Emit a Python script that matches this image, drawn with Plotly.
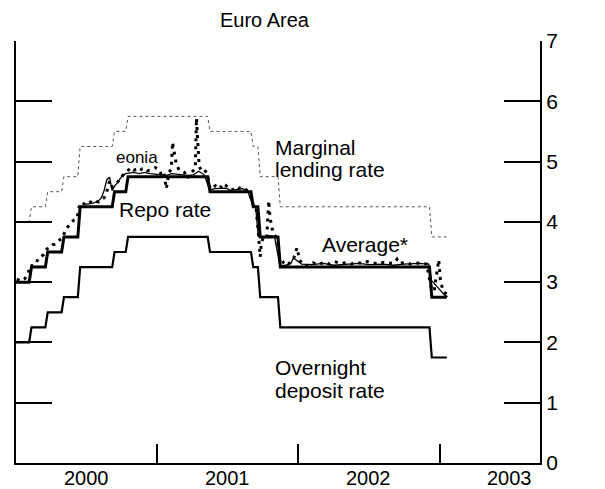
import plotly.graph_objects as go
from datetime import date, timedelta

# ---------------- data ----------------
policy_dates = ["2000-01-01", "2000-02-04", "2000-03-17", "2000-04-28", "2000-06-09",
                "2000-09-06", "2000-10-11", "2001-05-11", "2001-08-31", "2001-09-18",
                "2001-11-09", "2002-12-06"]
repo_rates = [3.00, 3.25, 3.50, 3.75, 4.25, 4.50, 4.75, 4.50, 4.25, 3.75, 3.25, 2.75]
deposit_rates = [2.00, 2.25, 2.50, 2.75, 3.25, 3.50, 3.75, 3.50, 3.25, 2.75, 2.25, 1.75]
lending_rates = [4.00, 4.25, 4.50, 4.75, 5.25, 5.50, 5.75, 5.50, 5.25, 4.75, 4.25, 3.75]
policy_end = "2003-01-20"

avg_dates = ["2000-06-28", "2000-07-05", "2000-07-19", "2000-08-02", "2000-08-09", "2000-08-16",
             "2000-08-23", "2000-08-30", "2000-09-06", "2000-09-13", "2000-09-20", "2000-09-27",
             "2000-10-04", "2000-10-11", "2000-10-18", "2000-11-01", "2000-11-15", "2000-11-29",
             "2000-12-13", "2000-12-27", "2001-01-10", "2001-01-24", "2001-02-07", "2001-02-21",
             "2001-03-07", "2001-03-21", "2001-04-04", "2001-04-18", "2001-05-02", "2001-05-16",
             "2001-05-30", "2001-06-13", "2001-06-27", "2001-07-11", "2001-07-25", "2001-08-08",
             "2001-08-22", "2001-09-05", "2001-09-12", "2001-09-19", "2001-10-03", "2001-10-17",
             "2001-10-31", "2001-11-14", "2001-11-28", "2001-12-12", "2001-12-19", "2001-12-27",
             "2002-01-09", "2002-02-06", "2002-03-06", "2002-04-03", "2002-05-08", "2002-06-05",
             "2002-07-03", "2002-08-07", "2002-09-04", "2002-10-02", "2002-11-06", "2002-12-04",
             "2002-12-11", "2002-12-18", "2002-12-27", "2003-01-08", "2003-01-15", "2003-01-22"]
avg_values = [4.29, 4.30, 4.31, 4.35, 4.40, 4.52,
              4.70, 4.74, 4.52, 4.60, 4.65, 4.72,
              4.78, 4.80, 4.81, 4.82, 4.80, 4.82,
              4.80, 4.79, 4.78, 4.77, 4.80, 4.79,
              4.78, 4.77, 4.78, 4.84, 4.78, 4.53,
              4.55, 4.56, 4.56, 4.52, 4.54, 4.55,
              4.52, 4.27, 4.26, 3.76, 3.75, 3.77,
              3.76, 3.27, 3.28, 3.31, 3.40, 3.36,
              3.30, 3.29, 3.31, 3.28, 3.30, 3.31,
              3.29, 3.30, 3.28, 3.30, 3.31, 3.30,
              3.03, 2.98, 2.90, 2.82, 2.78, 2.76]

eonia_dates = ["2000-01-03", "2000-01-14", "2000-01-24", "2000-01-31", "2000-02-07", "2000-02-14",
               "2000-02-21", "2000-02-28", "2000-03-06", "2000-03-13", "2000-03-21", "2000-03-28",
               "2000-04-04", "2000-04-11", "2000-04-18", "2000-04-30", "2000-05-08", "2000-05-15",
               "2000-05-21", "2000-05-30", "2000-06-07", "2000-06-14", "2000-06-21", "2000-06-28",
               "2000-07-05", "2000-07-12", "2000-07-19", "2000-07-26", "2000-08-02", "2000-08-09",
               "2000-08-16", "2000-08-23", "2000-08-30", "2000-09-06", "2000-09-13", "2000-09-20",
               "2000-09-27", "2000-10-04", "2000-10-11", "2000-10-18", "2000-10-25", "2000-11-01",
               "2000-11-08", "2000-11-15", "2000-11-22", "2000-11-29", "2000-12-06", "2000-12-13",
               "2000-12-20", "2000-12-27", "2001-01-03", "2001-01-10", "2001-01-17", "2001-01-24",
               "2001-01-31", "2001-02-06", "2001-02-09", "2001-02-14", "2001-02-19", "2001-02-26",
               "2001-03-05", "2001-03-12", "2001-03-19", "2001-03-26", "2001-04-02", "2001-04-09",
               "2001-04-12", "2001-04-19", "2001-04-26", "2001-05-03", "2001-05-10", "2001-05-17",
               "2001-05-24", "2001-05-31", "2001-06-07", "2001-06-14", "2001-06-21", "2001-06-28",
               "2001-07-05", "2001-07-12", "2001-07-19", "2001-07-26", "2001-08-02", "2001-08-09",
               "2001-08-16", "2001-08-23", "2001-08-30", "2001-09-06", "2001-09-13", "2001-09-20",
               "2001-09-24", "2001-09-27", "2001-10-04", "2001-10-11", "2001-10-16", "2001-10-19",
               "2001-10-24", "2001-10-31", "2001-11-07", "2001-11-14", "2001-11-21", "2001-11-28",
               "2001-12-05", "2001-12-12", "2001-12-19", "2001-12-28", "2002-01-04", "2002-01-11",
               "2002-01-25", "2002-02-08", "2002-02-22", "2002-03-08", "2002-03-22", "2002-04-05",
               "2002-04-19", "2002-05-03", "2002-05-17", "2002-05-31", "2002-06-14", "2002-06-28",
               "2002-07-12", "2002-07-26", "2002-08-09", "2002-08-23", "2002-09-06", "2002-09-13",
               "2002-09-20", "2002-10-04", "2002-10-18", "2002-11-01", "2002-11-15", "2002-11-29",
               "2002-12-06", "2002-12-11", "2002-12-18", "2002-12-23", "2002-12-30", "2003-01-03",
               "2003-01-10", "2003-01-20"]
eonia_values = [3.05, 3.02, 3.06, 3.12, 3.28, 3.27,
                3.30, 3.40, 3.42, 3.46, 3.55, 3.57,
                3.62, 3.63, 3.68, 3.73, 3.86, 3.92,
                3.98, 4.03, 4.06, 4.30, 4.28, 4.32,
                4.30, 4.33, 4.31, 4.34, 4.33, 4.37,
                4.40, 4.50, 4.68, 4.58, 4.62, 4.66,
                4.72, 4.78, 4.83, 4.86, 4.90, 4.86,
                4.87, 4.84, 4.88, 4.89, 4.85, 4.86,
                4.88, 4.90, 4.88, 4.80, 4.84, 4.55,
                4.82, 4.88, 5.32, 5.15, 4.95, 4.86,
                4.84, 4.82, 4.72, 4.80, 4.84, 4.88,
                5.72, 4.92, 4.84, 4.86, 4.80, 4.55,
                4.57, 4.60, 4.55, 4.58, 4.54, 4.60,
                4.56, 4.53, 4.55, 4.52, 4.56, 4.54,
                4.55, 4.50, 4.45, 4.28, 4.25, 3.75,
                3.42, 3.65, 3.78, 3.76, 4.35, 4.10,
                3.90, 3.78, 3.72, 3.30, 3.32, 3.35,
                3.30, 3.33, 3.38, 3.57, 3.37, 3.30,
                3.27, 3.32, 3.29, 3.33, 3.30, 3.34,
                3.31, 3.32, 3.30, 3.33, 3.31, 3.34,
                3.32, 3.30, 3.33, 3.31, 3.32, 3.38,
                3.31, 3.33, 3.30, 3.32, 3.31, 3.30,
                3.05, 2.90, 2.85, 3.05, 3.37, 3.05,
                2.85, 2.80]

year_labels = ["2000", "2001", "2002", "2003"]
year_mid = ["2000-07-01", "2001-07-02", "2002-07-02", "2003-07-02"]
year_ticks = ["2001-01-01", "2002-01-01", "2003-01-01"]
y_ticks = [0, 1, 2, 3, 4, 5, 6, 7]


def step_path(dates, rates, end, ramp_days=6):
    """Vertices of a step schedule with a short ramp at each change."""
    xs, ys = [dates[0]], [rates[0]]
    for d, r_prev, r in zip(dates[1:], rates[:-1], rates[1:]):
        d0 = date.fromisoformat(d)
        xs += [d0.isoformat(), (d0 + timedelta(days=ramp_days)).isoformat()]
        ys += [r_prev, r]
    xs.append(end)
    ys.append(rates[-1])
    return xs, ys


fig = go.Figure()

lx, ly = step_path(policy_dates, lending_rates, policy_end)
fig.add_trace(go.Scatter(x=lx, y=ly, mode="lines", name="Marginal lending rate",
                         line=dict(color="#555555", width=1, dash="dot")))
dx, dy = step_path(policy_dates, deposit_rates, policy_end)
fig.add_trace(go.Scatter(x=dx, y=dy, mode="lines", name="Overnight deposit rate",
                         line=dict(color="black", width=2.2)))
fig.add_trace(go.Scatter(x=eonia_dates, y=eonia_values, mode="lines", name="eonia",
                         line=dict(color="black", width=3, dash="3px,5px")))
fig.add_trace(go.Scatter(x=avg_dates, y=avg_values, mode="lines", name="Average*",
                         line=dict(color="black", width=1.3)))
rx, ry = step_path(policy_dates, repo_rates, policy_end)
fig.add_trace(go.Scatter(x=rx, y=ry, mode="lines", name="Repo rate",
                         line=dict(color="black", width=3)))

# page has an 8px body margin; figure is sized so the page layout matches
OFF = 8
W, H = 605 - OFF, 489 - OFF
PLOT_L, PLOT_R, PLOT_T, PLOT_B = 14, 540, 41, 463   # page pixel edges of plot area
L = PLOT_L - OFF
T = PLOT_T - OFF
R = W - (PLOT_R - OFF)
B = H - (PLOT_B - OFF)
PW, PH = W - L - R, H - T - B


def px(x, y):
    """page pixel -> paper coordinates"""
    return (x - PLOT_L) / PW, (PLOT_B - y) / PH


FONT = "Liberation Sans, Arial, Helvetica, sans-serif"
annos = []


def label(text, x, y, size=21, anchor="left"):
    xp, yp = px(x, y)
    annos.append(dict(text=text, x=xp, y=yp, xref="paper", yref="paper", showarrow=False,
                      xanchor=anchor, yanchor="middle", font=dict(size=size, color="black", family=FONT)))


label("Euro Area", 264, 20, size=20, anchor="center")
label("eonia", 112, 157, size=17)
label("Marginal", 272, 147)
label("lending rate", 272, 169)
label("Repo rate", 115, 209)
label("Average*", 319, 244)
label("Overnight", 272, 367)
label("deposit rate", 272, 390)

for t, m in zip(year_labels, year_mid):
    annos.append(dict(text=t, x=m, y=0, xref="x", yref="paper", yshift=-15, showarrow=False,
                      xanchor="center", yanchor="middle", font=dict(size=20, color="black", family=FONT)))

fig.update_layout(
    width=W, height=H,
    margin=dict(l=L, r=R, t=T, b=B),
    paper_bgcolor="white", plot_bgcolor="white",
    showlegend=False,
    annotations=annos,
    font=dict(family=FONT, color="black", size=21),
    xaxis=dict(type="date", range=["2000-01-01", "2003-09-18"], showgrid=False, zeroline=False,
               showline=True, linecolor="black", linewidth=2,
               tickmode="array", tickvals=year_ticks, ticks="inside", ticklen=19, tickwidth=2,
               tickcolor="black", showticklabels=False),
    yaxis=dict(range=[0, 7], side="right", showgrid=False, zeroline=False,
               showline=True, linecolor="black", linewidth=2, mirror="ticks",
               tickmode="array", tickvals=y_ticks, ticks="inside", ticklen=36, tickwidth=2,
               tickcolor="black", tickfont=dict(size=21, family=FONT, color="black")),
)

fig.write_html("out.html")
